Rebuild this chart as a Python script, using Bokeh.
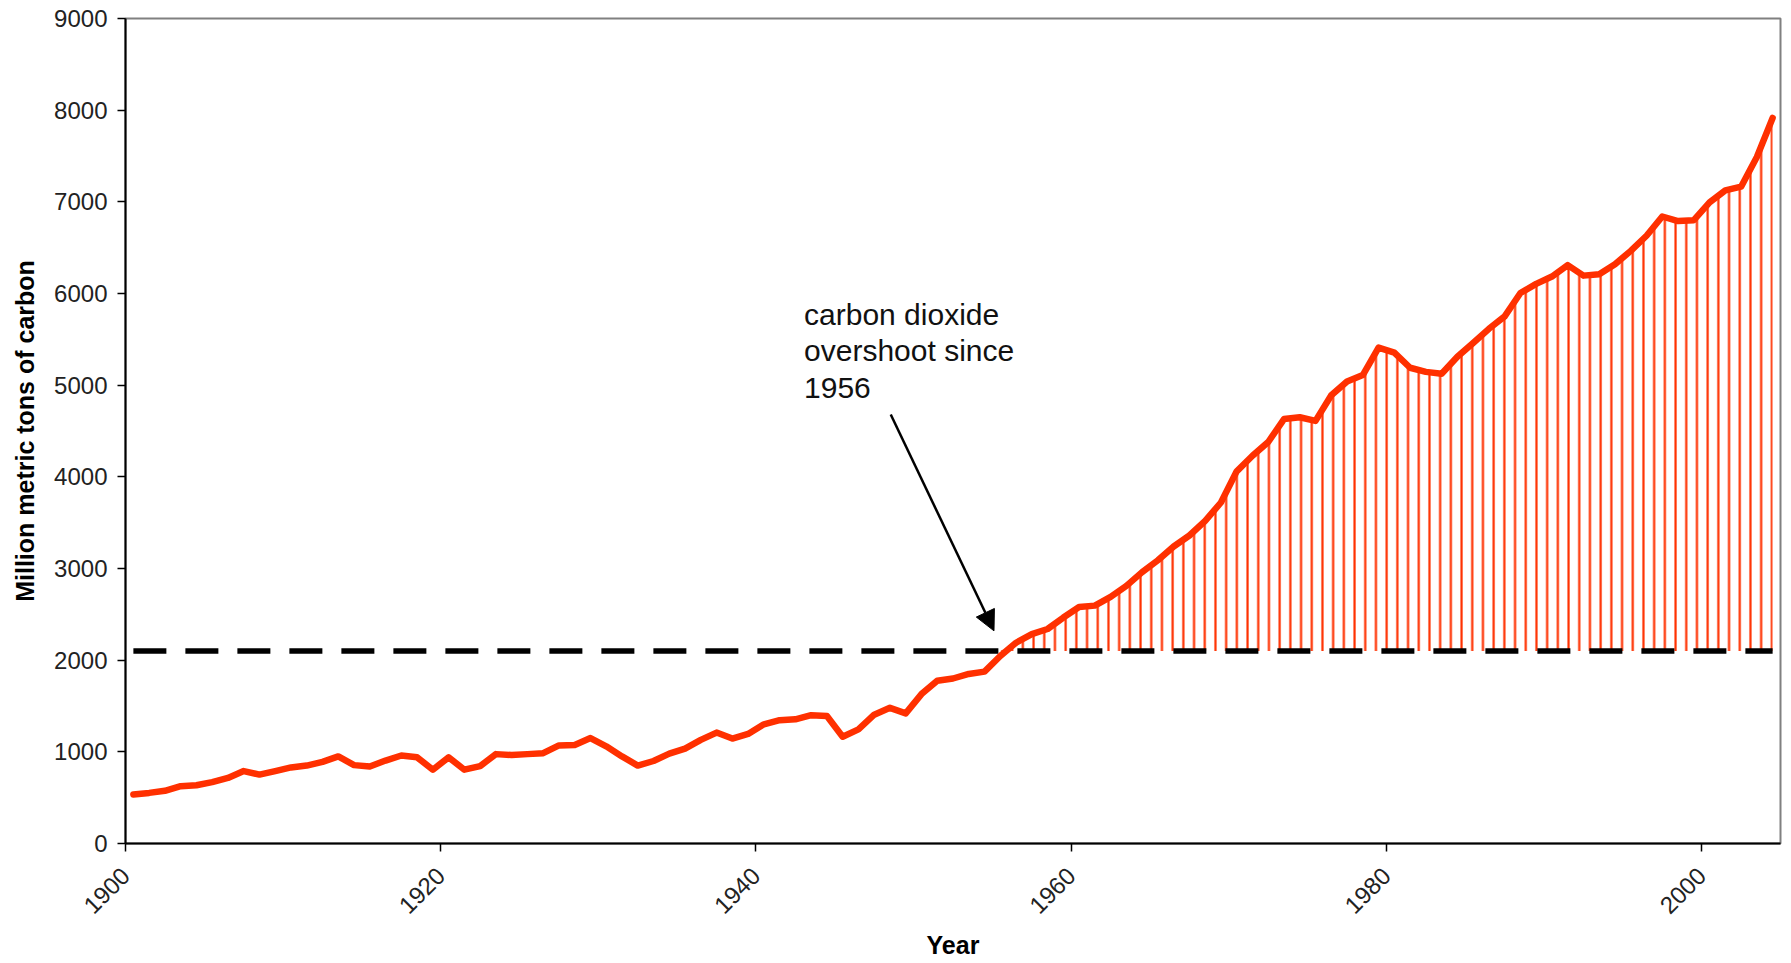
import math
import numpy as np
from bokeh.plotting import figure
from bokeh.models import (Range1d, FixedTicker, Label, Arrow, NormalHead,
                          ColumnDataSource)
from bokeh.embed import file_html
from bokeh.resources import INLINE

# ---------------- data ----------------
years = list(range(1900, 2005))
emissions = [
    535, 552, 575, 625, 635, 670, 715, 790, 752, 790,          # 1900-1909
    830, 850, 890, 950, 855, 840, 905, 960, 940, 805,          # 1910-1919
    940, 805, 845, 975, 965, 975, 985, 1070, 1075, 1150,       # 1920-1929
    1060, 950, 850, 900, 980, 1035, 1130, 1210, 1145, 1195,    # 1930-1939
    1300, 1345, 1355, 1400, 1390, 1165, 1245, 1405, 1480, 1420,  # 1940-1949
    1630, 1775, 1800, 1850, 1875, 2045, 2190, 2285, 2340, 2465,  # 1950-1959
    2580, 2595, 2690, 2810, 2960, 3090, 3240, 3360, 3520, 3720,  # 1960-1969
    4060, 4230, 4380, 4630, 4650, 4610, 4890, 5040, 5110, 5410,  # 1970-1979
    5355, 5190, 5145, 5125, 5310, 5460, 5615, 5750, 6005, 6105,  # 1980-1989
    6185, 6310, 6195, 6210, 6320, 6465, 6630, 6840, 6790, 6800,  # 1990-1999
    6995, 7125, 7165, 7490, 7915,                                # 2000-2004
]
threshold = 2100          # sustainable level (dashed line)
x_ticks = [1900, 1920, 1940, 1960, 1980, 2000]
y_ticks = [0, 1000, 2000, 3000, 4000, 5000, 6000, 7000, 8000, 9000]
annotation_text = "carbon dioxide\novershoot since\n1956"

# category-centred positions (Excel style: each year sits mid-interval)
xs = np.array(years) + 0.5
vals = np.array(emissions, dtype=float)
src = ColumnDataSource(dict(
    x=xs, y=vals,
    base=np.full(len(xs), threshold, dtype=float),
    top=np.maximum(vals, threshold),
))

FONT = "Liberation Sans"
RED = "#ff3000"

W, H = 1788, 962
p = figure(width=W, height=H, output_backend="svg", toolbar_location=None,
           x_range=Range1d(1900, 2005), y_range=Range1d(0, 9000),
           min_border_left=125, min_border_right=W - 1780, min_border_top=18,
           min_border_bottom=H - 18 - 825)
p.background_fill_color = "white"
p.border_fill_color = "white"
p.outline_line_color = "#808080"
p.outline_line_width = 2
p.grid.visible = False

# overshoot hatch
p.varea(x="x", y1="base", y2="top", source=src, fill_alpha=0,
        hatch_pattern="vertical_line", hatch_color=RED, hatch_scale=10.7,
        hatch_weight=2.2)
# threshold dashed line
p.line(x="x", y="base", source=src, line_color="black", line_width=5.5,
       line_dash="33 19")
# emissions line
p.line(x="x", y="y", source=src, line_color=RED, line_width=6.5,
       line_join="round", line_cap="round")

# axes
for ax in (p.xaxis[0], p.yaxis[0]):
    ax.axis_line_color = "black"
    ax.axis_line_width = 2
    ax.major_tick_line_color = "black"
    ax.major_tick_line_width = 1.5
    ax.major_tick_out = 8
    ax.major_tick_in = 0
    ax.minor_tick_line_color = None
    ax.major_label_text_font = FONT
    ax.major_label_text_font_size = "24px"
    ax.major_label_text_color = "#222222"
    ax.axis_label_text_font = FONT
    ax.axis_label_text_font_size = "25px"
    ax.axis_label_text_font_style = "bold"
    ax.axis_label_text_color = "black"

p.yaxis.ticker = FixedTicker(ticks=y_ticks)
p.yaxis.major_label_standoff = 10
p.yaxis.axis_label = "Million metric tons of carbon"
p.yaxis.axis_label_standoff = 12

p.xaxis.ticker = FixedTicker(ticks=x_ticks)
p.xaxis.major_label_orientation = math.pi / 4
p.xaxis.major_label_standoff = 20
p.xaxis.axis_label = "Year"
p.xaxis.axis_label_standoff = 7

# annotation
p.add_layout(Label(x=1943.05, y=5950, text=annotation_text,
                   text_font=FONT, text_font_size="30px", text_color="#111111",
                   text_baseline="top", text_align="left",
                   text_line_height=1.1))
p.add_layout(Arrow(end=NormalHead(size=20, fill_color="black",
                                  line_color="black", line_width=1),
                   x_start=1948.55, y_start=4680, x_end=1955.1, y_end=2320,
                   line_color="black", line_width=2.5))

open("out.html", "w").write(file_html(p, INLINE))
